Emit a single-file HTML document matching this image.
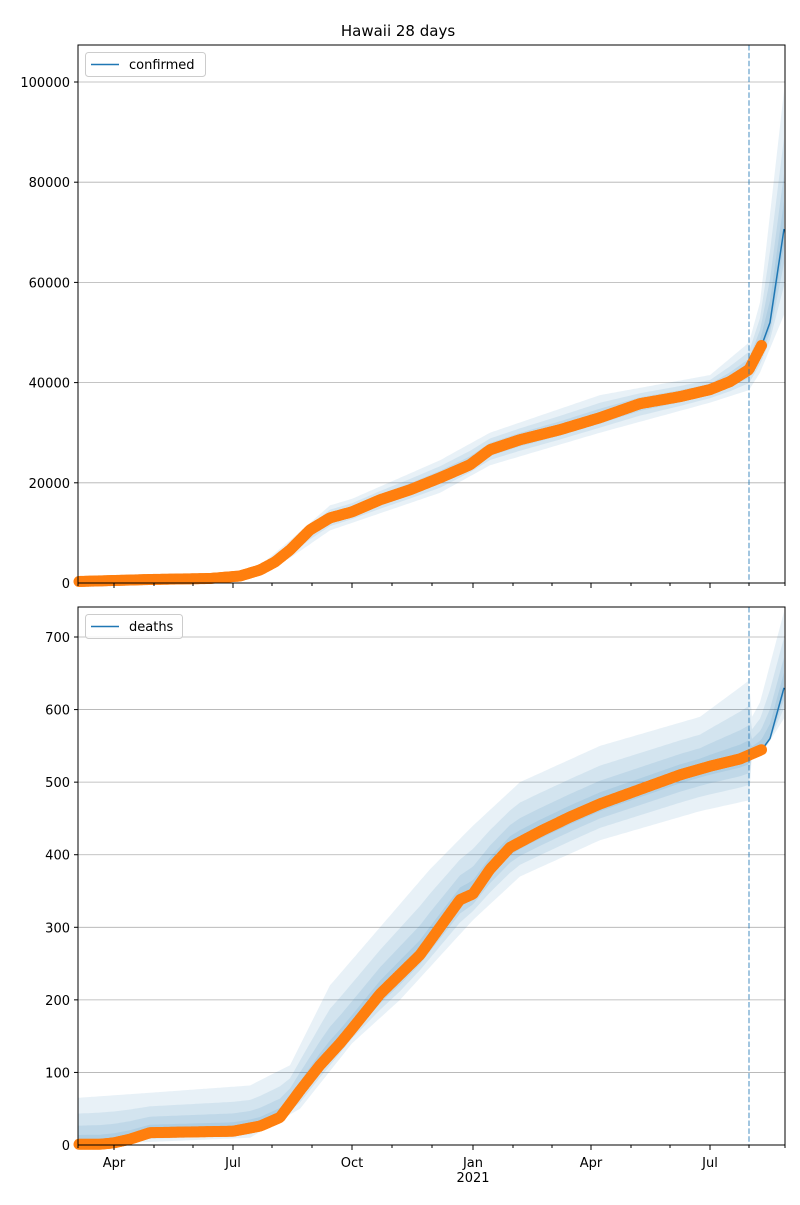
<!DOCTYPE html>
<html><head><meta charset="utf-8"><style>
body{margin:0;background:#fff;font-family:"Liberation Sans","DejaVu Sans",sans-serif}
svg text{font-family:"DejaVu Sans","Liberation Sans",sans-serif;font-size:13px;fill:#000}
</style></head><body>
<svg id="s" width="800" height="1200" xmlns="http://www.w3.org/2000/svg">
<rect width="800" height="1200" fill="#fff"/>
<text x="398" y="36" text-anchor="middle" style="font-size:15px">Hawaii 28 days</text>
<g id="g1"></g><g id="g2"></g>
</svg>
<script>
function lerp(pts,x){for(let i=0;i<pts.length-1;i++){if(x<=pts[i+1][0]){const a=pts[i],b=pts[i+1];return a[1]+(b[1]-a[1])*(x-a[0])/(b[0]-a[0]);}}return pts[pts.length-1][1];}
const NS="http://www.w3.org/2000/svg";
function el(g,t,a,txt){const e=document.createElementNS(NS,t);for(const k in a)e.setAttribute(k,a[k]);if(txt!==undefined)e.textContent=txt;g.appendChild(e);return e;}
function panel(g,top,bot,scale,ticks,fmt,center,up,lo,data,label,lw){
 const Y=v=>bot-v*scale;
 for(const t of ticks){el(g,'line',{x1:78,x2:785,y1:Y(t),y2:Y(t),stroke:'#b0b0b0','stroke-width':0.8});
  el(g,'line',{x1:74,x2:78,y1:Y(t),y2:Y(t),stroke:'#000'});el(g,'text',{x:70,y:Y(t)+5,'text-anchor':'end'},fmt(t));}
 const fr=[1,0.66,0.4,0.2];
 for(const f of fr){let p='';const xs=[];for(let x=78;x<=785;x+=2)xs.push(x);
  xs.forEach((x,i)=>{const c=lerp(center,x);p+=(i?'L':'M')+x+','+Y(c+f*(lerp(up,x)-c)).toFixed(1);});
  xs.slice().reverse().forEach(x=>{const c=lerp(center,x);p+='L'+x+','+Y(c-f*(c-lerp(lo,x))).toFixed(1);});
  el(g,'path',{d:p+'Z',fill:'#1f77b4','fill-opacity':0.1});}
 let p='';for(let x=78;x<=785;x+=2)p+=(x>78?'L':'M')+x+','+Y(lerp(center,x)).toFixed(1);
 el(g,'path',{d:p,fill:'none',stroke:'#1f77b4','stroke-width':1.5});
 for(let x=79;x<=762;x+=1.31)el(g,'circle',{cx:x,cy:Y(lerp(data,x)),r:5.5,fill:'#ff7f0e'});
 el(g,'line',{x1:749,x2:749,y1:top,y2:bot,stroke:'#1f77b4','stroke-opacity':0.55,'stroke-width':1.5,'stroke-dasharray':'5.5,2.4'});
 el(g,'rect',{x:78,y:top,width:707,height:bot-top,fill:'none',stroke:'#000','stroke-width':1});
 el(g,'rect',{x:85.5,y:top+7.5,width:lw,height:24,rx:3,fill:'#fff','fill-opacity':0.8,stroke:'#ccc'});
 el(g,'line',{x1:91,x2:119,y1:top+19.5,y2:top+19.5,stroke:'#1f77b4','stroke-width':1.5});
 el(g,'text',{x:129,y:top+24},label);
 const maj=[[114,'Apr'],[233,'Jul'],[352,'Oct'],[473,'Jan'],[591,'Apr'],[710,'Jul']];
 const mins=[154,193,272,312,392,432,513,552,631,670,749,785,78];
 for(const m of maj)el(g,'line',{x1:m[0],x2:m[0],y1:bot,y2:bot+5,stroke:'#000'});
 for(const m of mins)el(g,'line',{x1:m,x2:m,y1:bot,y2:bot+3,stroke:'#000'});
 return maj;}
const cT=[[78,300],[150,700],[210,900],[240,1400],[260,2600],[275,4200],[290,6600],[310,10600],[330,13000],[352,14200],[380,16600],[410,18600],[440,21000],[470,23600],[490,26600],[520,28600],[560,30600],[600,33000],[640,35800],[680,37200],[710,38600],[730,40200],[749,42600],[762,47600],[770,52000],[785,72000]];
const cU=[[78,500],[240,1800],[260,3500],[290,8500],[330,15500],[352,16800],[440,24500],[490,30000],[600,37500],[710,41500],[749,48000],[760,56000],[785,100000]];
const cL=[[78,0],[240,900],[290,5000],[330,10500],[352,12000],[440,18000],[490,23500],[600,30000],[710,36000],[749,38500],[760,42000],[785,54000]];
const cD=cT.filter(p=>p[0]<=762);
panel(document.getElementById('g1'),45,583,0.00501,[0,20000,40000,60000,80000,100000],String,cT,cU,cL,cD,'confirmed',120);
const dT=[[78,1],[100,1],[114,3],[130,8],[150,17],[233,19],[260,26],[280,38],[300,75],[320,110],[340,140],[352,160],[380,208],[400,235],[420,262],[440,300],[460,338],[473,346],[490,380],[510,410],[540,432],[570,452],[600,470],[640,490],[680,510],[710,522],[740,532],[762,545],[770,560],[785,635]];
const dU=[[78,65],[150,72],[250,82],[290,110],[330,220],[380,300],[430,380],[473,440],[520,500],[600,550],[700,590],[749,640],[752,590],[760,610],[785,740]];
const dL=[[78,0],[250,10],[300,50],[352,140],[400,200],[473,310],[520,370],[600,420],[700,460],[749,475],[752,540],[760,535],[785,590]];
const dD=dT.filter(p=>p[0]<=762);
const g2=document.getElementById('g2');
const maj=panel(g2,607,1145,0.7257,[0,100,200,300,400,500,600,700],String,dT,dU,dL,dD,'deaths',97);
for(const m of maj)el(g2,'text',{x:m[0],y:1167,'text-anchor':'middle'},m[1]);
el(g2,'text',{x:473,y:1182,'text-anchor':'middle'},'2021');
</script>
</body></html>
